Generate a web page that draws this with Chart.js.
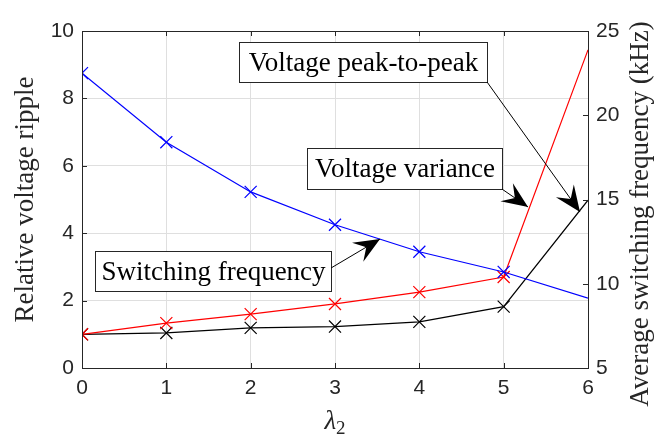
<!DOCTYPE html>
<html>
<head>
<meta charset="utf-8">
<script src="https://cdn.jsdelivr.net/npm/chart.js@4.4.1/dist/chart.umd.min.js"></script>
<style>
  html, body { margin: 0; padding: 0; background: #fff; }
  #wrap { width: 665px; height: 437px; }
</style>
</head>
<body>
<div id="wrap"><canvas id="chart"></canvas></div>
<script>
// lambda_2 values on the x axis
const lambda2 = [0, 1, 2, 3, 4, 5, 6];
// relative voltage ripple (left axis)
const peakToPeak = [1.0, 1.04, 1.19, 1.23, 1.37, 1.82, 4.98];
const variance = [1.0, 1.33, 1.6, 1.9, 2.25, 2.7, 9.44];
// average switching frequency in kHz (right axis)
const switchingFreq = [22.5, 18.4, 15.45, 13.5, 11.9, 10.7, 9.15];
// markers on every point except the last one
const markerRadius = [8.5, 8.5, 8.5, 8.5, 8.5, 8.5, 0];

const xTicks = [0, 1, 2, 3, 4, 5, 6];
const yTicks = [0, 2, 4, 6, 8, 10];
const y2Ticks = [5, 10, 15, 20, 25];

// text boxes with arrows, all in data units of x / left y
const notes = [
  { text: "Voltage peak-to-peak", box: [1.862, 4.803, 9.67, 8.487], from: [4.803, 8.487], to: [5.905, 4.63] },
  { text: "Voltage variance", box: [2.668, 4.98, 6.528, 5.31], from: [4.98, 5.31], to: [5.289, 4.777] },
  { text: "Switching frequency", box: [0.154, 2.953, 3.472, 2.285], from: [2.953, 2.967], to: [3.534, 3.828] },
];

const axisColor = "#262626";

function arrowHead(ctx, x0, y0, x1, y1) {
  const ang = Math.atan2(y1 - y0, x1 - x0);
  const len = 26, half = 11, notch = 16;
  ctx.save();
  ctx.translate(x1, y1);
  ctx.rotate(ang);
  ctx.beginPath();
  ctx.moveTo(0, 0);
  ctx.lineTo(-len, -half);
  ctx.lineTo(-notch, 0);
  ctx.lineTo(-len, half);
  ctx.closePath();
  ctx.fillStyle = "#000";
  ctx.fill();
  ctx.restore();
}

const framePlugin = {
  id: "frame",
  afterDraw(chart) {
    const ctx = chart.ctx;
    const a = chart.chartArea;
    const xs = chart.scales.x, ys = chart.scales.y, ys2 = chart.scales.y2;
    ctx.save();
    ctx.strokeStyle = axisColor;
    ctx.lineWidth = 1;
    ctx.strokeRect(Math.round(a.left) + 0.5, Math.round(a.top) + 0.5, Math.round(a.right - a.left), Math.round(a.bottom - a.top));
    ctx.beginPath();
    xTicks.forEach((v) => {
      const px = Math.round(xs.getPixelForValue(v)) + 0.5;
      ctx.moveTo(px, a.bottom); ctx.lineTo(px, a.bottom - 5);
      ctx.moveTo(px, a.top); ctx.lineTo(px, a.top + 5);
    });
    yTicks.forEach((v) => {
      const py = Math.round(ys.getPixelForValue(v)) + 0.5;
      ctx.moveTo(a.left, py); ctx.lineTo(a.left + 5, py);
    });
    y2Ticks.forEach((v) => {
      const py = Math.round(ys2.getPixelForValue(v)) + 0.5;
      ctx.moveTo(a.right, py); ctx.lineTo(a.right - 5, py);
    });
    ctx.stroke();

    // axis titles
    ctx.fillStyle = axisColor;
    ctx.font = "27px 'Liberation Serif'";
    ctx.textAlign = "center";
    ctx.textBaseline = "middle";
    const midY = (a.top + a.bottom) / 2;
    ctx.save();
    ctx.translate(26, midY);
    ctx.rotate(-Math.PI / 2);
    ctx.fillText("Relative voltage ripple", 0, 0);
    ctx.restore();
    ctx.save();
    ctx.translate(641, 214);
    ctx.rotate(-Math.PI / 2);
    ctx.fillText("Average switching frequency (kHz)", 0, 0);
    ctx.restore();

    // lambda_2
    const cx = (a.left + a.right) / 2;
    ctx.textAlign = "left";
    ctx.textBaseline = "alphabetic";
    ctx.font = "italic 27px 'Liberation Serif'";
    const lw = ctx.measureText("λ").width;
    ctx.font = "19px 'Liberation Serif'";
    const sw = ctx.measureText("2").width;
    const sx = cx - (lw + sw) / 2;
    ctx.font = "italic 27px 'Liberation Serif'";
    ctx.fillText("λ", sx, 429);
    ctx.font = "19px 'Liberation Serif'";
    ctx.fillText("2", sx + lw, 434);

    // annotations
    notes.forEach((n) => {
      const x1 = Math.round(xs.getPixelForValue(n.box[0])) + 0.5;
      const x2 = Math.round(xs.getPixelForValue(n.box[1])) + 0.5;
      const y1 = Math.round(ys.getPixelForValue(n.box[2])) + 0.5;
      const y2 = Math.round(ys.getPixelForValue(n.box[3])) + 0.5;
      ctx.fillStyle = "#fff";
      ctx.fillRect(x1, y1, x2 - x1, y2 - y1);
      ctx.strokeStyle = axisColor;
      ctx.lineWidth = 1;
      ctx.strokeRect(x1, y1, x2 - x1, y2 - y1);
      ctx.fillStyle = "#000";
      ctx.font = "27px 'Liberation Serif'";
      ctx.textAlign = "center";
      ctx.textBaseline = "middle";
      ctx.fillText(n.text, (x1 + x2) / 2, (y1 + y2) / 2 + 1);

      const fx = xs.getPixelForValue(n.from[0]), fy = ys.getPixelForValue(n.from[1]);
      const tx = xs.getPixelForValue(n.to[0]), ty = ys.getPixelForValue(n.to[1]);
      ctx.beginPath();
      ctx.strokeStyle = "#000";
      ctx.moveTo(fx, fy);
      ctx.lineTo(tx, ty);
      ctx.stroke();
      arrowHead(ctx, fx, fy, tx, ty);
    });
    ctx.restore();
  },
};

function series(label, values, color, axis) {
  return {
    label: label,
    data: lambda2.map((x, i) => ({ x: x, y: values[i] })),
    yAxisID: axis,
    borderColor: color,
    backgroundColor: color,
    borderWidth: 1.2,
    pointStyle: "crossRot",
    pointRadius: markerRadius,
    pointBorderWidth: 1.2,
    pointBorderColor: color,
    tension: 0,
    clip: 0,
  };
}

const tickFont = { family: "'Liberation Sans'", size: 21 };

new Chart(document.getElementById("chart"), {
  type: "line",
  data: {
    datasets: [
      series("Switching frequency", switchingFreq, "#0000ff", "y2"),
      series("Voltage variance", variance, "#ff0000", "y"),
      series("Voltage peak-to-peak", peakToPeak, "#000000", "y"),
    ],
  },
  options: {
    responsive: true,
    maintainAspectRatio: false,
    animation: false,
    layout: { padding: { top: 31, left: 0, right: 0, bottom: 0 } },
    plugins: { legend: { display: false }, tooltip: { enabled: false } },
    scales: {
      x: {
        type: "linear",
        min: 0,
        max: 6,
        afterBuildTicks: (s) => { s.ticks = xTicks.map((v) => ({ value: v })); },
        afterFit: (s) => { s.height = 69; },
        grid: { color: "#dfdfdf", drawTicks: false },
        border: { display: false },
        ticks: { color: axisColor, font: tickFont, padding: 8, maxRotation: 0 },
      },
      y: {
        position: "left",
        min: 0,
        max: 10,
        afterBuildTicks: (s) => { s.ticks = yTicks.map((v) => ({ value: v })); },
        afterFit: (s) => { s.width = 82; },
        grid: { color: "#dfdfdf", drawTicks: false },
        border: { display: false },
        ticks: { color: axisColor, font: tickFont, padding: 8 },
      },
      y2: {
        position: "right",
        min: 5,
        max: 25,
        afterBuildTicks: (s) => { s.ticks = y2Ticks.map((v) => ({ value: v })); },
        afterFit: (s) => { s.width = 77; },
        grid: { display: false, drawTicks: false },
        border: { display: false },
        ticks: { color: axisColor, font: tickFont, padding: 8 },
      },
    },
  },
  plugins: [framePlugin],
});
</script>
</body>
</html>
